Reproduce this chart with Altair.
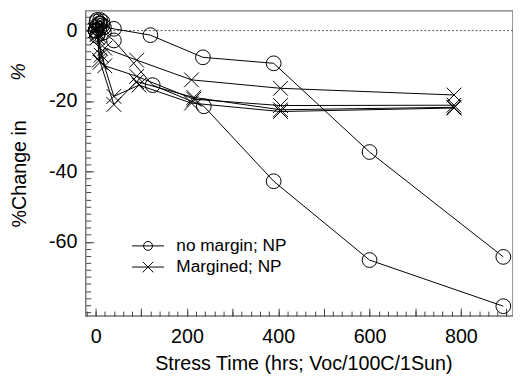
import altair as alt
import pandas as pd

FONT = "Liberation Sans"
TYPES = ["no margin; NP", "Margined; NP"]

# ---- data ----
n1_t = [0, 2, 5, 10, 18, 40, 120, 235, 390, 600, 893]
n1_v = [0, 2.5, 1.5, 3.0, 1.0, 0.5, -1.3, -7.6, -9.3, -34.5, -64.3]
n2_t = [0, 2, 5, 10, 18, 40, 125, 237, 390, 600, 893]
n2_v = [0, 1.0, -1.0, 2.0, -0.5, -2.8, -15.5, -21.5, -42.8, -65.2, -78.3]
n3_t = [0, 3, 8, 15]
n3_v = [0, 3.0, 0.5, 2.5]
n4_t = [0, 3, 8, 15]
n4_v = [0, -1.5, 2.0, 1.5]

m1_t = [0, 4, 8, 20, 90, 210, 405, 785]
m1_v = [0, -1, -8.4, -5, -8.4, -14, -16.4, -18.3]
m2_t = [0, 4, 10, 40, 90, 215, 405, 785]
m2_v = [0, -2, -9, -21, -14.5, -19, -22.5, -21.8]
m3_t = [0, 4, 12, 40, 95, 210, 405, 785]
m3_v = [0, 1, -7, -18.7, -15.5, -20.6, -23, -22]
m4_t = [0, 4, 10, 20, 90, 215, 405, 785]
m4_v = [0, -1, -5, -10, -13, -19.5, -21.3, -21.2]

x_major = [0, 100, 200, 300, 400, 500, 600, 700, 800, 900]
x_minor = list(range(-20, 901, 20))
y_major = [-60, -40, -20, 0]
y_minor = list(range(-80, 5, 2))

series = [
    ("N1", TYPES[0], n1_t, n1_v), ("N2", TYPES[0], n2_t, n2_v),
    ("N3", TYPES[0], n3_t, n3_v), ("N4", TYPES[0], n4_t, n4_v),
    ("M1", TYPES[1], m1_t, m1_v), ("M2", TYPES[1], m2_t, m2_v),
    ("M3", TYPES[1], m3_t, m3_v), ("M4", TYPES[1], m4_t, m4_v),
]
rows = []
for name, typ, ts, vs in series:
    for i, (t, v) in enumerate(zip(ts, vs)):
        rows.append({"series": name, "type": typ, "t": t, "v": v, "o": i})
df = pd.DataFrame(rows)

XPATH = "M-1,-1L1,1M-1,1L1,-1"
LEG_C = "M-3.6,0L3.6,0M-1,0A1,1 0 1,0 1,0A1,1 0 1,0 -1,0"
LEG_X = "M-3.6,0L3.6,0M-1.2,-1.2L1.2,1.2M-1.2,1.2L1.2,-1.2"

xs = alt.Scale(domain=[-21.6, 914.2], nice=False, zero=False)
ys = alt.Scale(domain=[-81.1, 5.6], nice=False, zero=False)

base = alt.Chart(df)

lines = base.mark_line(color="black", strokeWidth=1).encode(
    x=alt.X("t:Q", scale=xs, axis=alt.Axis(
        orient="bottom", values=x_major,
        labelExpr="datum.value % 200 == 0 && datum.value <= 800 ? datum.value + '' : ''",
        tickSize=8, offset=-8, domain=False, grid=False, tickColor="#444",
        labelPadding=11, labelFontSize=20, labelFont=FONT, labelColor="black",
        title="Stress Time (hrs; Voc/100C/1Sun)", titleFont=FONT, titleFontSize=20,
        titleFontWeight="normal", titleColor="black", titleX=221, titleY=62,
        titleAlign="center", titleBaseline="alphabetic")),
    y=alt.Y("v:Q", scale=ys, axis=alt.Axis(
        orient="left", values=y_major, labelExpr="datum.value + ''",
        tickSize=8, offset=-8, domain=False, grid=False, tickColor="#444",
        labelPadding=9, labelFontSize=20, labelFont=FONT, labelColor="black",
        title="%Change in", titleFont=FONT, titleFontSize=20, titleFontWeight="normal",
        titleColor="black", titleAngle=270, titleX=-75.5, titleY=165,
        titleAlign="center", titleBaseline="middle")),
    detail="series:N",
    order="o:Q",
)

points = base.mark_point(filled=False, color="black", strokeWidth=1, size=225, opacity=1).encode(
    x=alt.X("t:Q", scale=xs, axis=alt.Axis(
        orient="bottom", values=x_minor, labels=False, tickSize=5, offset=-5,
        domain=False, grid=False, tickColor="#444", title=None)),
    y=alt.Y("v:Q", scale=ys, axis=alt.Axis(
        orient="left", values=y_minor, labels=False, tickSize=5, offset=-5,
        domain=False, grid=False, tickColor="#444", title=None)),
    shape=alt.Shape("type:N", scale=alt.Scale(domain=TYPES, range=["circle", XPATH]), legend=None),
)

legend_layer = base.mark_point(filled=False, color="black", strokeWidth=1, opacity=0).encode(
    x=alt.X("t:Q", scale=xs, axis=None),
    y=alt.Y("v:Q", scale=ys, axis=None),
    shape=alt.Shape("type:N", scale=alt.Scale(domain=TYPES, range=[LEG_C, LEG_X]),
                    legend=alt.Legend(orient="none", legendX=54.5, legendY=230, title=None,
                                      symbolSize=81, symbolStrokeColor="black",
                                      symbolStrokeWidth=1, symbolOpacity=1,
                                      symbolFillColor="transparent",
                                      labelFont=FONT, labelFontSize=17.5, labelColor="black",
                                      labelOffset=20, rowPadding=2.5, padding=0)),
)

zero_rule = alt.Chart(pd.DataFrame({"y": [0]})).mark_rule(
    color="#555", strokeWidth=1, strokeDash=[2, 2]).encode(
    y=alt.Y("y:Q", scale=ys, axis=None))

pct = alt.Chart(pd.DataFrame({"s": ["%"]})).mark_text(
    angle=270, fontStyle="italic", fontSize=20, font=FONT, color="black",
    align="center", baseline="middle").encode(
    text="s:N", x=alt.value(-67.5), y=alt.value(62))

chart = alt.layer(zero_rule, lines, points, legend_layer, pct).resolve_scale(
    shape="independent").resolve_axis(x="independent", y="independent").properties(
    width=434, height=310,
    autosize=alt.AutoSizeParams(type="none"),
    padding={"left": 79, "top": 0, "right": 0, "bottom": 58},
).configure_view(stroke="#777", strokeWidth=1.5)

chart.save("out.html", embed_options={"renderer": "svg", "actions": False})
